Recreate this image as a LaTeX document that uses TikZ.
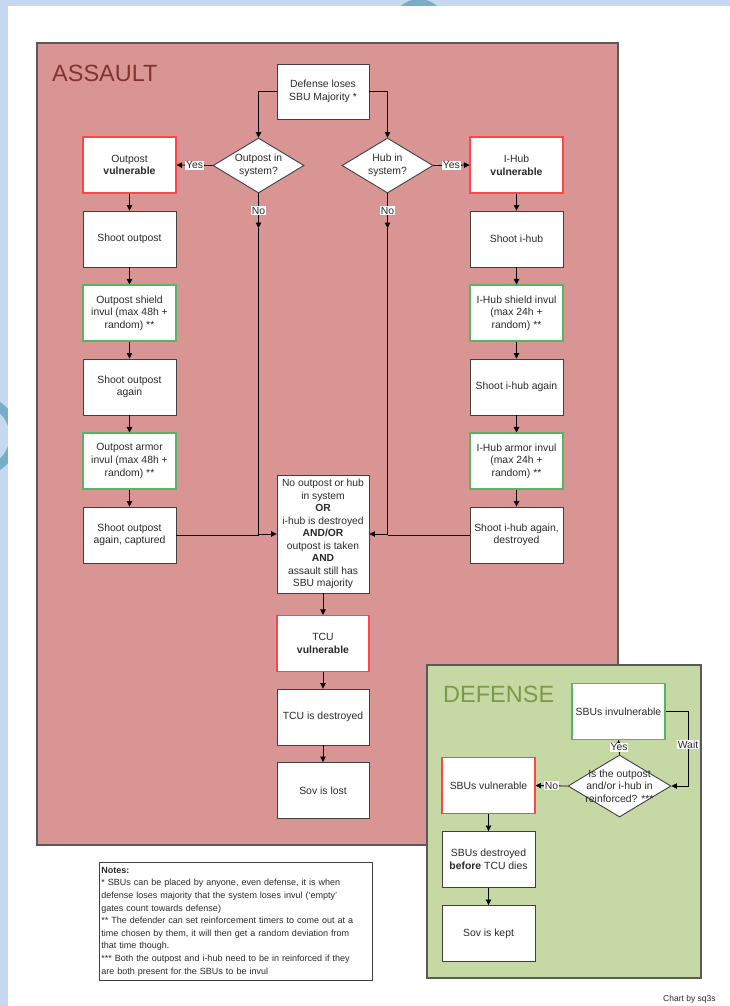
\documentclass[tikz,border=0pt]{standalone}
\usepackage{fontspec}
\setmainfont{Liberation Sans}
\usetikzlibrary{shapes.geometric,arrows.meta}

\definecolor{pageblue}{HTML}{C6D9F1}
\definecolor{ringteal}{HTML}{79AEC8}
\definecolor{assaultfill}{HTML}{D99594}
\definecolor{assaulttext}{HTML}{843330}
\definecolor{defensefill}{HTML}{C6D9A5}
\definecolor{defensetext}{HTML}{7A9A45}
\definecolor{framegray}{HTML}{595959}
\definecolor{boxline}{HTML}{404040}
\definecolor{alertred}{HTML}{FF4545}
\definecolor{okgreen}{HTML}{55B565}
\definecolor{inktext}{HTML}{2A2A2A}

\tikzset{
  flowbox/.style={rectangle, draw=boxline, line width=0.9pt, fill=white,
    minimum width=93, minimum height=56, inner sep=1pt, align=center,
    text=inktext, font=\fontsize{10.4}{12.6}\selectfont},
  redbox/.style={flowbox, draw=alertred, line width=1.1pt},
  greenbox/.style={flowbox, draw=okgreen, line width=1.1pt},
  decision/.style={diamond, draw=boxline, line width=0.9pt, fill=white,
    inner sep=0pt, minimum width=91, minimum height=55},
  dtext/.style={align=center, text=inktext, font=\fontsize{10.4}{12.6}\selectfont},
  flow/.style={-{Triangle[length=5.5pt,width=5.5pt]}, line width=0.8pt, draw=black},
  link/.style={line width=0.8pt, draw=black},
  tag/.style={fill=white, inner sep=0.8pt, text=inktext, font=\fontsize{10.4}{12}\selectfont},
  heading/.style={anchor=base west, inner sep=0pt, font=\fontsize{23.5}{26}\selectfont},
}

\begin{document}
\begin{tikzpicture}[x=1pt,y=-1pt]
\useasboundingbox (0,0) rectangle (730,1006);

% page background with the border ornaments
\fill[pageblue] (0,0) rectangle (730,1006);
\begin{scope}
  \clip (0,0) rectangle (730,6);
  \fill[ringteal] (419,26) circle (27);
\end{scope}
\begin{scope}
  \clip (0,0) rectangle (8,1006);
  \draw[ringteal, line width=9pt] (-22,436) circle (36);
\end{scope}
\fill[white] (8,6) rectangle (730,1006);

% the two areas
\filldraw[fill=assaultfill, draw=framegray, line width=1.2pt] (37,43) rectangle (618,845);
\filldraw[fill=defensefill, draw=framegray, line width=1.2pt] (427,665) rectangle (701,978);
\node[heading, text=assaulttext] (assaulthead) at (52,82) {ASSAULT};
\node[heading, text=defensetext] (defensehead) at (443,702) {DEFENSE};

% ---- assault flow ----
\node[flowbox, minimum width=92, minimum height=55] (start) at (323,91.5) {Defense loses\\SBU Majority *};

\node[decision, label={[dtext]center:Outpost in\\system?}] (opq) at (258.5,165.5) {};
\node[decision, label={[dtext]center:Hub in\\system?}] (hubq) at (387.5,165.5) {};

% outpost column
\node[redbox]   (op1) at (129.5,165) {Outpost\\\textbf{vulnerable}};
\node[flowbox]  (op2) at (129.5,239) {Shoot outpost};
\node[greenbox] (op3) at (129.5,313) {Outpost shield\\invul (max 48h +\\random) **};
\node[flowbox]  (op4) at (129.5,387) {Shoot outpost\\again};
\node[greenbox] (op5) at (129.5,461) {Outpost armor\\invul (max 48h +\\random) **};
\node[flowbox]  (op6) at (129.5,535) {Shoot outpost\\again, captured};

% i-hub column
\node[redbox]   (hb1) at (516.5,165) {I-Hub\\\textbf{vulnerable}};
\node[flowbox]  (hb2) at (516.5,239) {Shoot i-hub};
\node[greenbox] (hb3) at (516.5,313) {I-Hub shield invul\\(max 24h +\\random) **};
\node[flowbox]  (hb4) at (516.5,387) {Shoot i-hub again};
\node[greenbox] (hb5) at (516.5,461) {I-Hub armor invul\\(max 24h +\\random) **};
\node[flowbox]  (hb6) at (516.5,535) {Shoot i-hub again,\\destroyed};

% centre column
\node[flowbox, minimum width=92, minimum height=118, inner sep=0pt,
      font=\fontsize{10.3}{12.5}\selectfont] (cond) at (323,534)
  {No outpost or hub\\in system\\\textbf{OR}\\i-hub is destroyed\\\textbf{AND/OR}\\outpost is taken\\\textbf{AND}\\assault still has\\SBU majority};
\node[redbox, minimum width=92]  (tcu1) at (323,643.5) {TCU\\\textbf{vulnerable}};
\node[flowbox, minimum width=92] (tcu2) at (323,717) {TCU is destroyed};
\node[flowbox, minimum width=92] (lost) at (323,790.5) {Sov is lost};

\coordinate (opno) at (258.5,228);
\coordinate (hubno) at (387.5,228);

\draw[flow] (start.west) -| (opq.north);
\draw[flow] (start.east) -| (hubq.north);
\draw[flow] (opq.west) -- node[tag] {Yes} (op1.east);
\draw[flow] (hubq.east) -- node[tag] {Yes} (hb1.west);
\draw[flow] (opq.south) -- node[tag] {No} (opno);
\draw[flow] (hubq.south) -- node[tag] {No} (hubno);
\draw[flow] (opno) |- (cond.west);
\draw[flow] (hubno) |- (cond.east);

\draw[flow] (op1) -- (op2);
\draw[flow] (op2) -- (op3);
\draw[flow] (op3) -- (op4);
\draw[flow] (op4) -- (op5);
\draw[flow] (op5) -- (op6);
\draw[link] (op6.east) -- (opno |- op6.east);

\draw[flow] (hb1) -- (hb2);
\draw[flow] (hb2) -- (hb3);
\draw[flow] (hb3) -- (hb4);
\draw[flow] (hb4) -- (hb5);
\draw[flow] (hb5) -- (hb6);
\draw[link] (hb6.west) -- (hubno |- hb6.west);

\draw[flow] (cond) -- (tcu1);
\draw[flow] (tcu1) -- (tcu2);
\draw[flow] (tcu2) -- (lost);

% ---- defense flow ----
\node[greenbox] (inv) at (618.5,711.5) {SBUs invulnerable};
\node[decision, minimum width=103, minimum height=62,
      label={[dtext]center:Is the outpost\\and/or i-hub in\\reinforced? ***}] (rq) at (619.5,786) {};
\node[redbox]  (sv) at (488.5,785.5) {SBUs vulnerable};
\node[flowbox] (sd) at (488.5,859.5) {SBUs destroyed\\\textbf{before} TCU dies};
\node[flowbox] (sk) at (488.5,933.5) {Sov is kept};

\coordinate (waitturn) at (688,786);
\draw[flow] (inv.east) -| node[pos=0.72, tag] {Wait} (waitturn) -- (rq.east);
\draw[flow] (rq.north) -- node[tag] {Yes} (inv.south);
\draw[flow] (rq.west) -- node[tag] {No} (sv.east);
\draw[flow] (sv) -- (sd);
\draw[flow] (sd) -- (sk);

% ---- notes ----
\node[draw=boxline, line width=0.9pt, fill=white, anchor=north west,
      minimum width=273, minimum height=118, text width=269, inner sep=2pt,
      align=left, text=inktext, font=\fontsize{9.0}{12.6}\selectfont] (notes) at (99,862)
  {\textbf{Notes:}\\
   {*} SBUs can be placed by anyone, even defense, it is when\\
   defense loses majority that the system loses invul (‘empty’\\
   gates count towards defense)\\
   {**} The defender can set reinforcement timers to come out at a\\
   time chosen by them, it will then get a random deviation from\\
   that time though.\\
   {***} Both the outpost and i-hub need to be in reinforced if they\\
   are both present for the SBUs to be invul};

\node[anchor=north west, inner sep=0pt, text=inktext, font=\fontsize{8.5}{10}\selectfont] (credit) at (663,995.5) {Chart by sq3s};
\end{tikzpicture}
\end{document}
